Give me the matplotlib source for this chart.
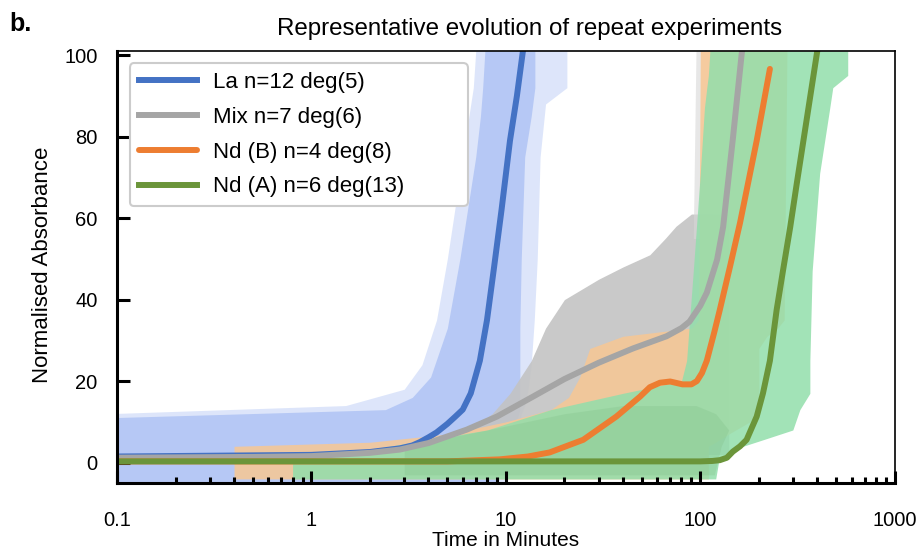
import numpy as np
import matplotlib.pyplot as plt
from matplotlib.ticker import FixedLocator, NullFormatter

plt.rcParams['font.family'] = ['Liberation Sans', 'DejaVu Sans']

# Mean curves (time in minutes, normalised absorbance)
la_t = [0.1, 1, 2, 2.85, 3.3, 3.6, 4.0, 4.4, 5.0, 5.5, 6.0, 6.6, 7.35, 8.0, 8.7, 9.5, 10.5, 11.4, 12.2, 12.5]
la_y = [1.5, 1.9, 2.6, 3.5, 4.2, 5.0, 6.2, 7.4, 9.5, 11.3, 13, 17, 25, 35, 48, 62, 79, 90, 100.5, 104]

mix_t = [0.1, 0.5, 1, 2, 2.85, 4, 6.3, 9, 13.8, 20, 30, 45, 67, 80, 88, 100, 108, 122, 131, 147, 163, 166]
mix_y = [1.2, 1.4, 1.6, 2.4, 3.2, 4.8, 8.1, 11.3, 16.2, 20.5, 24.5, 28, 31, 33, 34.6, 38.5, 41.7, 49.8, 57.8, 79.4, 100, 103]

ndb_t = [0.1, 5, 9.3, 13, 16.8, 25, 37, 49, 55, 62, 70, 81, 90, 96, 102, 108, 118, 126, 142, 160, 195, 215, 228]
ndb_y = [0.3, 0.3, 0.8, 1.5, 2.5, 5.6, 11.3, 16.2, 18.5, 19.6, 19.9, 19.2, 19.2, 20, 22, 25, 32, 37.5, 48, 58.8, 79, 90, 96.6]

nda_t = [0.1, 100, 115, 126, 137, 147, 160, 173, 195, 210, 228, 247, 266, 290, 313, 353, 398, 410]
nda_y = [0.3, 0.3, 0.4, 0.6, 1.2, 2.7, 4.0, 5.6, 11.3, 17, 25, 37.5, 47, 57.8, 68.3, 84.4, 100.5, 104]

# Spread of the repeat runs: for each absorbance level, the time range covered
la_band_y = [-5, 10, 11, 13, 16, 21, 33, 50, 75, 85, 92, 101]
la_band_lo = [0.09, 0.09, 0.09, 2.4, 3.3, 4.1, 5.0, 5.8, 7.0, 7.4, 7.6, 7.8]
la_band_hi = [9.0, 11.0, 11.5, 11.8, 11.8, 11.8, 11.8, 12.0, 12.5, 13.5, 14.1, 14.1]

la_halo_y = [-5, 12, 14, 18, 24, 35, 50, 75, 88, 92, 101]
la_halo_lo = [0.09, 0.09, 1.5, 3.0, 3.7, 4.4, 5.0, 6.0, 6.6, 6.8, 7.0]
la_halo_hi = [10, 12, 12.5, 13, 13.5, 14, 14.5, 15, 16, 20.6, 20.6]

mix_band_y = [2, 5, 8, 12, 17, 25, 33, 40, 45, 48, 51, 55, 58, 61]
mix_band_lo = [2.5, 4, 6.5, 8.5, 10.5, 13.5, 16, 20, 30, 40, 55, 66, 75, 90]
mix_band_hi = [140] * 14

mix_top_y = [55, 101]
mix_top_lo = [92, 95]
mix_top_hi = [115, 118]

ndb_band_y = [-4, 4, 5, 7, 10, 13, 16, 21, 28, 31, 33, 35, 101]
ndb_band_lo = [0.4, 0.4, 2, 5, 10, 17, 21, 24, 27, 40, 90, 98, 100]
ndb_band_hi = [110, 110, 120, 140, 180, 200, 200, 200, 200, 220, 250, 270, 279]

nda_band_y = [-4, 1, 2, 3.2, 5.6, 8, 13, 17, 20, 25, 47, 71, 87, 92, 95, 101]
nda_band_lo = [0.8, 0.8, 1.0, 2.0, 4.0, 8.0, 17, 40, 80, 85, 92, 100, 105, 108, 110, 112]
nda_band_hi = [120, 125, 140, 147, 210, 299, 325, 366, 366, 366, 376, 411, 463, 480, 573, 573]

nda_core_y = [-3, 4, 8, 12, 14]
nda_core_lo = [3, 3, 8, 20, 40]
nda_core_hi = [118, 128, 140, 120, 95]

fig = plt.figure(figsize=(9.21, 5.53), dpi=100)
ax = fig.add_axes([0.127, 0.1266, 0.8445, 0.7812])

# shaded spreads first
ax.fill_betweenx(la_halo_y, la_halo_lo, la_halo_hi, color='#B4C7F5', alpha=0.45, lw=0)
ax.fill_betweenx(la_band_y, la_band_lo, la_band_hi, color='#B4C7F5', alpha=0.95, lw=0)
ax.fill_betweenx(mix_band_y, mix_band_lo, mix_band_hi, color='#C3C3C3', alpha=0.9, lw=0)
ax.fill_betweenx(mix_top_y, mix_top_lo, mix_top_hi, color='#D8D8D8', alpha=0.6, lw=0)
ax.fill_betweenx(ndb_band_y, ndb_band_lo, ndb_band_hi, color='#F8C793', alpha=0.85, lw=0)
ax.fill_betweenx(nda_band_y, nda_band_lo, nda_band_hi, color='#92DEAB', alpha=0.85, lw=0)
ax.fill_betweenx(nda_core_y, nda_core_lo, nda_core_hi, color='#86C48E', alpha=0.35, lw=0)

lw = 4.3
ax.plot(la_t, la_y, color='#4472C4', lw=lw, label='La n=12 deg(5)')
ax.plot(mix_t, mix_y, color='#A5A5A5', lw=lw, label='Mix n=7 deg(6)')
ax.plot(ndb_t, ndb_y, color='#ED7D31', lw=lw, solid_capstyle='round', label='Nd (B) n=4 deg(8)')
ax.plot(nda_t, nda_y, color='#6B953A', lw=lw, label='Nd (A) n=6 deg(13)')

ax.set_xscale('log')
ax.set_xlim(0.1, 1000)
ax.set_ylim(-5, 101)

ax.xaxis.set_major_locator(FixedLocator([0.1, 1, 10, 100, 1000]))
ax.set_xticklabels(['0.1', '1', '10', '100', '1000'])
minor = [m * 10.0 ** e for e in range(-1, 3) for m in range(2, 10)]
ax.xaxis.set_minor_locator(FixedLocator(minor))
ax.xaxis.set_minor_formatter(NullFormatter())
ax.set_yticks([0, 20, 40, 60, 80, 100])

ax.tick_params(axis='x', which='major', direction='in', length=8.6, width=2.2,
               pad=20, labelsize=14.5)
ax.tick_params(axis='x', which='minor', direction='in', length=4.3, width=2.2)
ax.tick_params(axis='y', which='major', direction='in', length=9.4, width=2.2,
               pad=14, labelsize=14.5)

for side in ['left', 'bottom']:
    ax.spines[side].set_linewidth(2.2)
for side in ['top', 'right']:
    ax.spines[side].set_linewidth(1.2)

leg = ax.legend(loc='upper left', bbox_to_anchor=(0.0167, 0.972, 0.434, 0), mode='expand',
                borderaxespad=0, fontsize=16, handlelength=2.6, handletextpad=0.75,
                labelspacing=0.62, frameon=True, fancybox=True, framealpha=1)
leg.get_frame().set_edgecolor('#CCCCCC')
leg.get_frame().set_linewidth(1.5)

fig.text(530 / 921, 1 - 35 / 553, 'Representative evolution of repeat experiments',
         ha='center', va='baseline', fontsize=17.4)
fig.text(9 / 921, 1 - 31 / 553, 'b.', ha='left', va='baseline', fontsize=18, fontweight='bold')
fig.text(506 / 921, 1 - 541 / 553, 'Time in Minutes', ha='center', va='center', fontsize=15)
fig.text(42 / 921, 1 - 265 / 553, 'Normalised Absorbance', ha='center', va='center',
         rotation=90, fontsize=16)

fig.savefig('out.png', dpi=100)
